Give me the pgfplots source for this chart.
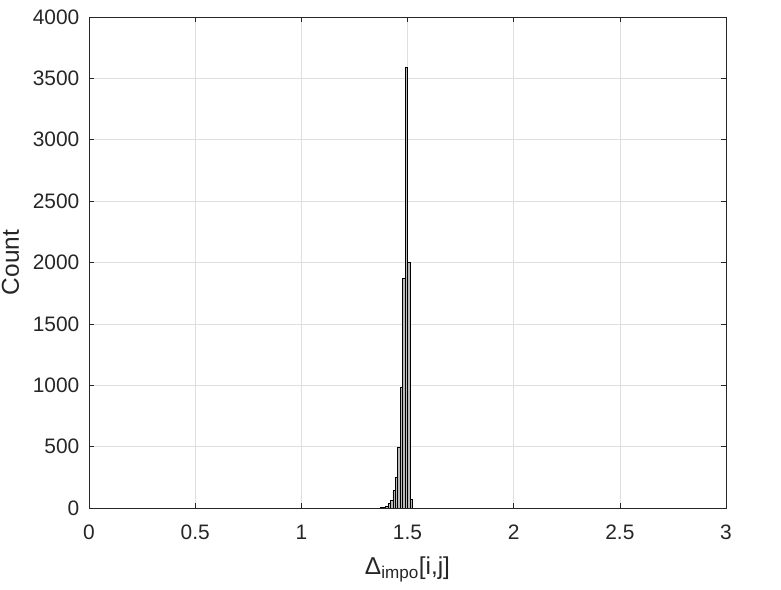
\documentclass[border=0pt]{standalone}
\usepackage{fontspec}
\setmainfont{Liberation Sans}
\usepackage{pgfplots}
\pgfplotsset{compat=1.18}

\definecolor{axgray}{RGB}{38,38,38}
\definecolor{gridgray}{RGB}{223,223,223}

\begin{document}
\begin{tikzpicture}[x=1bp,y=1bp]
\path[use as bounding box] (0,0) rectangle (781,590);
\begin{axis}[
    at={(89bp,82bp)}, anchor=south west,
    scale only axis,
    width=637bp, height=491bp,
    xmin=0, xmax=3, ymin=0, ymax=4000,
    xtick={0,0.5,...,3},
    ytick={0,500,...,4000},
    grid=major,
    major grid style={gridgray, line width=0.6bp},
    axis line style={axgray, line width=0.6bp},
    tick style={axgray, line width=0.6bp},
    major tick length=5bp,
    tick align=inside,
    xtick pos=both, ytick pos=both,
    ticklabel style={font=\fontsize{21}{24}\selectfont, text=axgray, inner sep=0pt},
    xticklabel style={anchor=base, yshift=-32bp},
    yticklabel style={anchor=east, xshift=-9.5bp},
    /pgf/number format/assume math mode=true,
    /pgf/number format/1000 sep={},
    scaled y ticks=false,
    xlabel={Δ\textsubscript{impo}[i,j]},
    ylabel={Count},
    label style={font=\fontsize{24.5}{27}\selectfont, text=axgray, inner sep=0pt},
    xlabel style={at={(axis description cs:0.5,0)}, anchor=base, yshift=-67bp},
    ylabel style={at={(axis description cs:0,0.5)}, anchor=base, yshift=70bp},
]
\addplot[ybar interval, fill=gray!55, draw=black, line width=0.5bp] coordinates {
    (1.3735,3)
    (1.3850,8)
    (1.3965,16)
    (1.4080,38)
    (1.4195,65)
    (1.4310,141)
    (1.4425,250)
    (1.4540,491)
    (1.4655,980)
    (1.4770,1875)
    (1.4885,3590)
    (1.5000,2005)
    (1.5115,73)
    (1.5230,73)
};
\end{axis}
\end{tikzpicture}
\end{document}
